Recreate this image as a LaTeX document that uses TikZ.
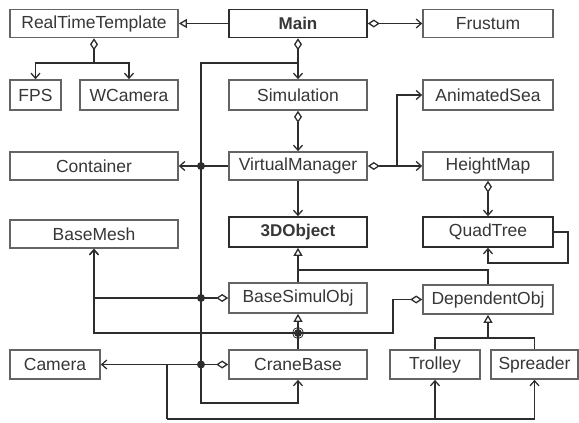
\documentclass[tikz,border=0pt]{standalone}
\usepackage{fontspec}
\setmainfont{Liberation Sans}
\usetikzlibrary{arrows.meta}
\definecolor{boxline}{RGB}{100,100,100}
\definecolor{wire}{RGB}{45,45,45}
\definecolor{txt}{RGB}{55,55,55}
\tikzset{
  cls/.style={draw=boxline, line width=1.7pt, fill=white, text=txt, inner sep=0pt,
    minimum height=28pt, font=\fontsize{17.5}{19}\selectfont},
  bcls/.style={cls, draw=wire, font=\fontsize{17}{19}\selectfont\bfseries},
  wireline/.style={draw=wire, line width=1.3pt},
  arr/.style={wireline, -{Straight Barb[length=5pt,width=9pt]}},
  diaarr/.style={wireline, {Diamond[open,length=12pt,width=8pt]}-{Straight Barb[length=5pt,width=9pt]}},
  diastart/.style={wireline, {Diamond[open,length=12pt,width=8pt]}-},
  inh/.style={wireline, -{Triangle[open,length=8pt,width=9pt]}},
  junc/.style={fill=wire}
}
\begin{document}
\begin{tikzpicture}[x=1pt,y=-1pt]
\useasboundingbox (0,0) rectangle (579,423);
% classes
\node[cls, minimum width=168pt] (rtt) at (94,23.5) {RealTimeTemplate};
\node[bcls, minimum width=138pt] (main) at (298,23.5) {Main};
\node[cls, minimum width=130pt] (frustum) at (488,23.5) {Frustum};
\node[cls, minimum width=51pt, minimum height=30pt] (fps) at (35.5,95) {FPS};
\node[cls, minimum width=98pt, minimum height=30pt] (wcam) at (129,95) {WCamera};
\node[cls, minimum width=138pt, minimum height=30pt] (sim) at (298,95) {Simulation};
\node[cls, minimum width=130pt, minimum height=30pt] (asea) at (488,95) {AnimatedSea};
\node[cls, minimum width=168pt] (cont) at (94,166) {Container};
\node[cls, minimum width=138pt] (vm) at (298,166) {VirtualManager};
\node[cls, minimum width=130pt] (hmap) at (488,166) {HeightMap};
\node[cls, minimum width=168pt] (bmesh) at (94,234) {BaseMesh};
\node[bcls, minimum width=138pt, minimum height=30pt] (obj) at (298,232) {3DObject};
\node[cls, draw=wire, minimum width=130pt, minimum height=30pt] (qtree) at (488,232) {QuadTree};
\node[cls, minimum width=138pt, minimum height=30pt] (bso) at (298,298) {BaseSimulObj};
\node[cls, minimum width=130pt, minimum height=29pt] (dep) at (488,299.5) {DependentObj};
\node[cls, minimum width=90pt, minimum height=29pt] (cam) at (55,364.5) {Camera};
\node[cls, minimum width=138pt, minimum height=29pt] (crane) at (298,364.5) {CraneBase};
\node[cls, minimum width=90pt, minimum height=29pt] (trol) at (435,364.5) {Trolley};
\node[cls, minimum width=87pt, minimum height=29pt] (spr) at (534.5,364.5) {Spreader};
% helper coordinates
\coordinate (rj) at (94,63);
\coordinate (mj) at (298,63);
\coordinate (bt) at (201,63);
\coordinate (bb) at (201,403);
\coordinate (vj) at (397,166);
\coordinate (ql) at (568,263);
\coordinate (ij) at (298,270);
\coordinate (dj) at (488,338);
\coordinate (dl) at (393,333);
\coordinate (cj) at (167,364.5);
\coordinate (cb) at (167,419);
\coordinate (d1) at (201,166);
\coordinate (d2) at (201,298);
\coordinate (d3) at (201,364.5);
\coordinate (d4) at (298,333);
% connectors
\draw[inh] (main.west) -- (rtt.east);
\draw[diaarr] (main.east) -- (frustum.west);
\draw[diaarr] (main.south) -- (sim.north);
\draw[diastart] (rtt.south) -- (rj);
\draw[arr] (rj) -| (fps.north);
\draw[arr] (rj) -| (wcam.north);
\draw[arr] (mj) -- (bt) -- (bb) -| (crane.south);
\draw[arr] (vm.west) -- (cont.east);
\draw[diaarr] (sim.south) -- (vm.north);
\draw[arr] (vm.south) -- (obj.north);
\draw[diaarr] (vm.east) -- (hmap.west);
\draw[arr] (vj) |- (asea.west);
\draw[diaarr] (hmap.south) -- (qtree.north);
\draw[arr] (qtree.east) -| (ql) -| (qtree.south);
\draw[inh] (bso.north) -- (obj.south);
\draw[wireline] (dep.north) |- (ij);
\draw[inh] (dj) -- (dep.south);
\draw[wireline] (trol.north) |- (dj);
\draw[wireline] (spr.north) |- (dj);
\draw[inh] (crane.north) -- (bso.south);
\draw[diaarr] (bso.west) -| (bmesh.south);
\draw[diaarr] (dep.west) -| (dl) -| (bmesh.south);
\draw[diaarr] (crane.west) -- (cam.east);
\draw[wireline] (cj) -- (cb);
\draw[arr] (cb) -| (trol.south);
\draw[arr] (cb) -| (spr.south);
% junction dots
\fill[junc] (d1) circle (4pt);
\fill[junc] (d2) circle (4pt);
\fill[junc] (d3) circle (4pt);
\fill[junc] (d4) circle (4pt);
\draw[wire, line width=0.8pt] (d4) circle (5.5pt);
\end{tikzpicture}
\end{document}
